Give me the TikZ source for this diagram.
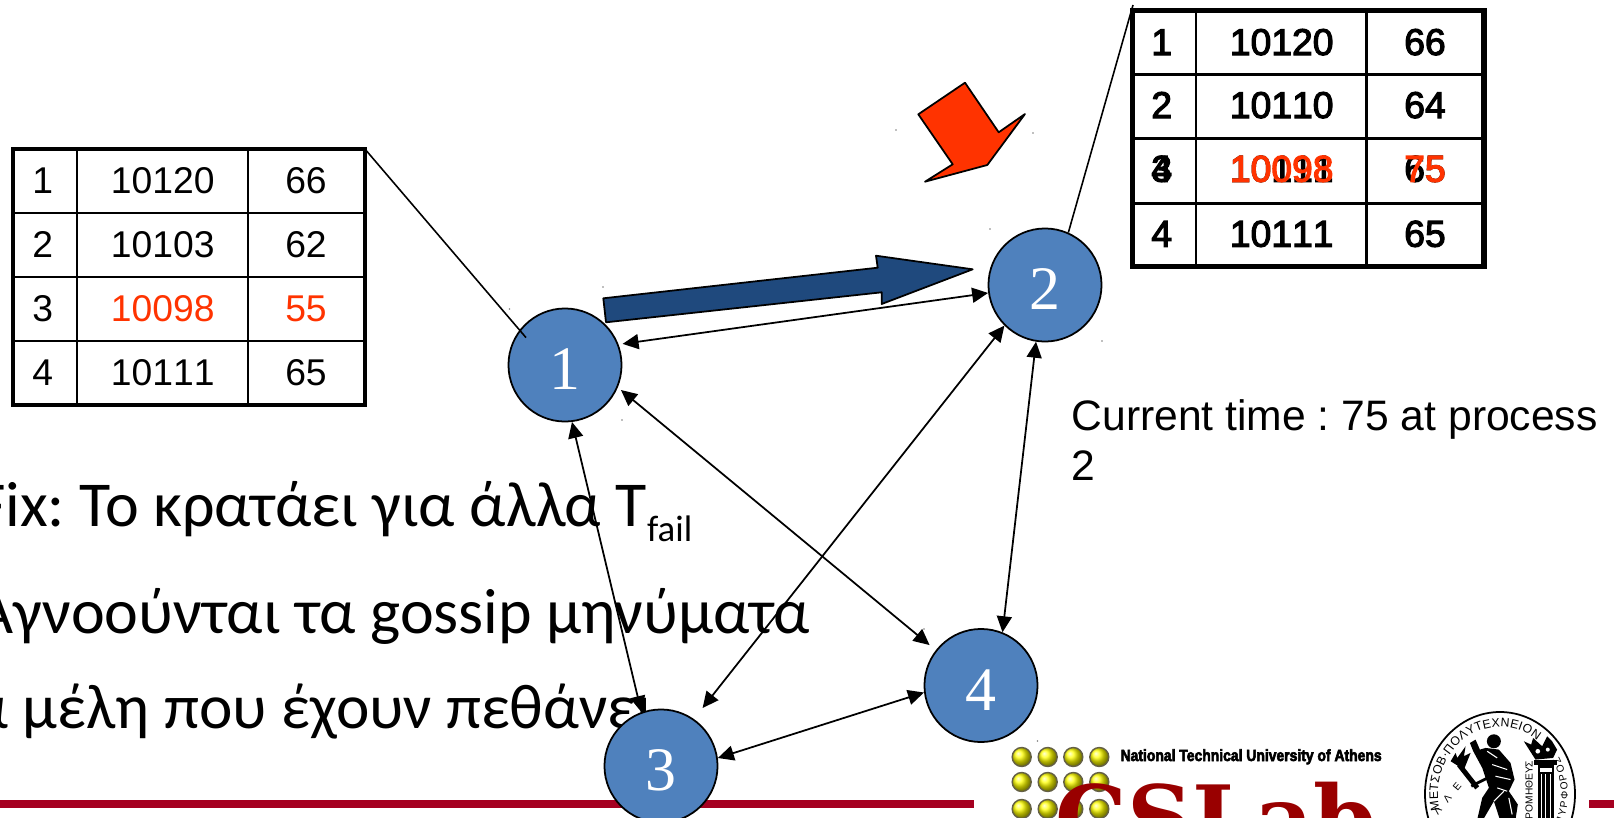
\documentclass[tikz,border=0pt]{standalone}
\usepackage{fontspec}
\setmainfont[Kerning=Off]{Liberation Sans}
\newfontfamily\greekfont{Carlito}
\newfontfamily\digitfont{Liberation Serif}
\newfontfamily\slabfont{DejaVu Serif}
\newfontfamily\boldtablefont[FakeBold=3,Kerning=Off]{Liberation Sans}
\newfontfamily\heavyfont[FakeBold=4]{Liberation Sans Bold}
\usetikzlibrary{arrows.meta,decorations.text}
\definecolor{procblue}{HTML}{4F81BD}
\definecolor{markblue}{HTML}{1F497D}
\definecolor{markred}{HTML}{FF3300}
\definecolor{barred}{HTML}{A50021}
\definecolor{labred}{HTML}{990000}
\newcommand{\tablefont}{\fontsize{10.6pt}{12pt}\selectfont}
\newcommand{\sealfont}{\fontsize{3.5pt}{4pt}\selectfont}
\newcommand{\smallsealfont}{\fontsize{2.9pt}{3pt}\selectfont}
\tikzset{
    proc/.style={circle, draw, line width=0.5pt, fill=procblue, minimum size=1.13cm, inner sep=0pt,
        text=white, text height=14.2pt, text depth=0pt, font=\digitfont\fontsize{17.6pt}{18pt}\selectfont},
    link/.style={{Triangle[length=0.16cm,width=0.15cm]}-{Triangle[length=0.16cm,width=0.15cm]}, line width=0.5pt},
    leader/.style={line width=0.45pt},
    frame/.style={draw, rectangle, inner sep=0pt, outer sep=0pt},
    celltext/.style={inner sep=0pt, anchor=base, font=\tablefont},
    boldcell/.style={inner sep=0pt, anchor=base, font=\boldtablefont\tablefont},
    slide/.style={inner sep=0pt, font=\greekfont\fontsize{18.2pt}{20pt}\selectfont},
    block/.style={draw, line width=0.5pt, line join=round},
}
\begin{document}
\frenchspacing
\begin{tikzpicture}[x=0.01cm,y=-0.01cm]
    \clip (0,0) rectangle (1614,818);
    % Slide text and bottom bar
    \fill[barred] (0,800) rectangle (974,808);
    \fill[barred] (1589,800) rectangle (1614,808);
    \node[slide, anchor=base east] (fixline) at (693,526) {Fix: Το κρατάει για άλλα T\raisebox{-0.24em}{\fontsize{10.5pt}{12pt}\selectfont fail}};
    \node[slide, anchor=base east] (gossipline) at (811,633) {Αγνοούνται τα gossip μηνύματα};
    \node[slide, anchor=base west, font=\greekfont\fontsize{18pt}{20pt}\selectfont] (deadline) at (-28,728) {α μέλη που έχουν πεθάνει};
    % Processes
    \node[proc] (n1) at (565,365) {1};
    \node[proc] (n2) at (1045,285) {2};
    \node[proc] (n3) at (661,766) {3};
    \node[proc] (n4) at (981,685.5) {4};
    % Links
    \draw[link, shorten <=0.04cm] (n1.21) -- (n2.188);
    \draw[link] (n1.-83) -- (n3.110);
    \draw[link, shorten <=0.04cm, shorten >=0.08cm] (n1.-23) -- (n4.142);
    \draw[link, shorten >=0.14cm] (n2.225) -- (n3.55);
    \draw[link] (n2.261) -- (n4.68);
    \draw[link] (n3.8) -- (n4.187);
    % Table at process 1
    \node[frame, line width=1.15pt, minimum width=3.523cm, minimum height=2.557cm] (tablea) at (188.85,277.15) {};
    \foreach \y in {212.7,276.7,341} \draw[line width=0.6pt] (12.7,\y) -- (365,\y);
    \foreach \x in {77,248} \draw[line width=0.6pt] (\x,149.3) -- (\x,405);
    \foreach \r/\y/\k/\v/\col in {1/193.5/10120/66/black,2/257.5/10103/62/black,3/321.5/10098/55/markred,4/385.5/10111/65/black} {
        \node[celltext] (aid\r) at (42.7,\y) {\r};
        \node[celltext, text=\col] (akey\r) at (162.7,\y) {\k};
        \node[celltext, text=\col] (aval\r) at (306,\y) {\v};
    }
    \coordinate (leada) at (526,337.6);
    \draw[leader] (tablea.north east) -- (leada);
    % Table at process 2
    \node[frame, line width=1.5pt, minimum width=3.513cm, minimum height=2.56cm] (tableb) at (1308.35,138.7) {};
    \foreach \y in {74.7,138.3,203.3} \draw[line width=1pt] (1132.7,\y) -- (1484,\y);
    \foreach \x in {1196,1366.7} \draw[line width=0.8pt] (\x,10.7) -- (\x,266.7);
    \foreach \r/\y/\k/\v in {1/55/10120/66,2/118/10110/64,4/246.7/10111/65} {
        \node[boldcell] (bid\r) at (1161.7,\y) {\r};
        \node[boldcell] (bkey\r) at (1281.7,\y) {\k};
        \node[boldcell] (bval\r) at (1425,\y) {\v};
    }
    % Row 3 printed over a copy of row 4
    \node[boldcell] (bidold) at (1161.7,181.7) {4};
    \node[boldcell] (bkeyold) at (1281.7,181.7) {10111};
    \node[boldcell] (bvalold) at (1425,181.7) {65};
    \node[boldcell] (bid3) at (1161.7,181.7) {3};
    \node[boldcell, text=markred] (bkey3) at (1281.7,181.7) {10098};
    \node[boldcell, text=markred] (bval3) at (1425,181.7) {75};
    \coordinate (leadb) at (1133,5);
    \draw[leader] (leadb) -- (n2.66.6);
    % Block arrows
    \draw[block, fill=markblue] (603.3,298.3) -- (606,322.3) -- (881.7,292.3) -- (881.7,304) -- (972.7,269.3) -- (876,255.7) -- (877.7,267.7) -- cycle;
    \draw[block, fill=markred] (965,82.7) -- (918.3,114.3) -- (952.7,164.3) -- (925,181.7) -- (987.3,165) -- (1025,114) -- (998.7,132.3) -- cycle;
    % Note
    \node[inner sep=0pt, anchor=north west, align=left, font=\fontsize{12.12pt}{14.3pt}\selectfont] (timenote) at (1071,399) {Current time : 75 at process\\2};
    % Stray marks
    \foreach \x/\y in {896/130,1033/133,990/229,603/287,509.5/309,622/420,1102/341,924/629,1037.5/741}
        \fill[gray] (\x,\y) circle (0.8);
    % Lab logo
    \foreach \y in {757,782,809}
        \foreach \x in {1021.7,1047.7,1073.3,1099.3}
            \shade[ball color=yellow, draw=black!70!yellow, line width=0.4pt] (\x,\y) circle (9.5);
    \node[inner sep=0pt, anchor=base west, xscale=0.86, transform shape, font=\heavyfont\fontsize{4.6pt}{5pt}\selectfont] (ntua) at (1120,761) {National Technical University of Athens};
    \node[inner sep=0pt, anchor=base west, text=labred, font=\slabfont\bfseries\fontsize{25.6pt}{26pt}\selectfont] (cslab) at (1055,850) {CSLab};
    % Seal
    \coordinate (sealc) at (1500,794);
    \draw[line width=0.5pt, fill=white] (sealc) ellipse (75 and 82);
    \path[decorate, decoration={text along path, text={|\sealfont|ΜΕΤΣΟΒ·ΠΟΛΥΤΕΧΝΕΙΟΝ}, text align={fit to path}}]
        (sealc) ++(-194:62 and 67) arc (-194:-53:62 and 67);
    \path[decorate, decoration={text along path, text={|\smallsealfont|ΠΥΡΦΟΡΟΣ}, text align={fit to path}}]
        (sealc) ++(25:68 and 74) arc (25:-30:68 and 74);
    \coordinate (sealla) at (1438,815);
    \coordinate (seallb) at (1462,786);
    \path[decorate, decoration={text along path, text={|\smallsealfont|ΛΛΕ}, text align={fit to path}}] (sealla) -- (seallb);
    \node[inner sep=0pt, rotate=90, anchor=east, font=\smallsealfont] (prometheus) at (1529,760) {ΠΡΟΜΗΘΕΥΣ};
    \begin{scope}[shift={(1414,708)},x=0.00333cm,y=-0.00333cm]
        % Figure
        \fill (240,100) circle (21);
        \fill (215,120) -- (255,125) -- (290,165) -- (302,215) -- (285,250) -- (312,290) -- (305,335) -- (258,335) -- (240,280) -- (208,335) -- (190,335) -- (205,270) -- (225,240) -- (205,180) -- (178,130) -- (168,105) -- (185,95) -- (198,125) -- cycle;
        \draw[white, line width=0.3pt] (235,170) -- (280,185) (245,205) -- (290,215) (250,240) -- (280,250) (240,280) -- (270,250) (220,130) -- (250,150) (285,270) -- (295,320);
        \draw[line width=0.8pt] (225,208) -- (172,235);
        \draw[line width=1.4pt] (135,170) -- (190,240);
        \fill (110,160) -- (125,135) -- (130,150) -- (155,115) -- (150,145) -- (170,135) -- (150,185) -- cycle;
        % Column
        \fill (362,155) rectangle (430,172);
        \fill (372,172) rectangle (420,340);
        \foreach \x in {382,396,410} \draw[white, line width=0.3pt] (\x,198) -- (\x,340);
        \fill[white] (378,180) rectangle (414,192);
        \fill (365,155) -- (330,100) -- (352,110) -- (358,90) -- (385,115) -- (400,85) -- (415,100) -- (430,125) -- (418,150) -- cycle;
        \fill[white] (372,130) circle (7) (402,125) circle (6);
    \end{scope}
\end{tikzpicture}
\end{document}
